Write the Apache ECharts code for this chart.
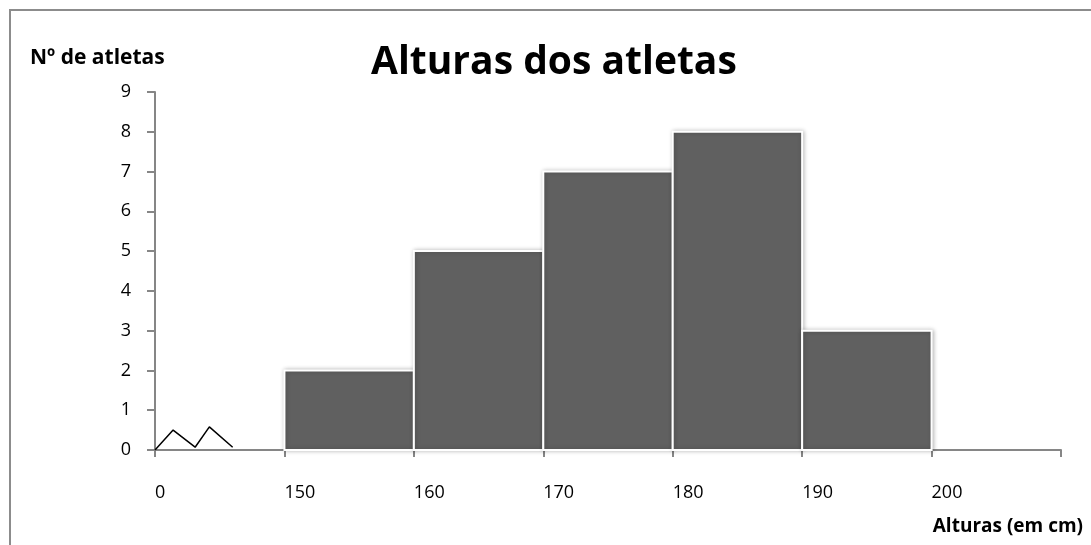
<!DOCTYPE html>
<html>
<head>
<meta charset="utf-8">
<script src="https://cdn.jsdelivr.net/npm/echarts@6/dist/echarts.min.js"></script>
<style>
  html, body { margin: 0; padding: 0; background: #fff; }
  #chart { width: 1091px; height: 545px; }
</style>
</head>
<body>
<div id="chart"></div>
<script>
// Height classes (lower bound, cm) and the number of athletes in each
const binStarts = [150, 160, 170, 180, 190];
const binWidth = 10;
const counts = [2, 5, 7, 8, 3];

// Labels under each x tick; the first slot is the broken-axis gap from 0 to 150
const xTickLabels = ['0', '150', '160', '170', '180', '190', '200', ''];
const yTicks = [0, 1, 2, 3, 4, 5, 6, 7, 8, 9];

// Zig-zag axis-break symbol inside the first slot, in axis units
const breakX = [0, 0.14, 0.31, 0.42, 0.6];
const breakY = [0, 0.5, 0.07, 0.58, 0.07];

const FONT = '"Open Sans", Lato, sans-serif';

// Slot position of a height value on the broken x axis
function slotOf(h) {
  return xTickLabels.indexOf('150') + (h - 150) / binWidth;
}

const barData = binStarts.map((s, i) => [slotOf(s), slotOf(s + binWidth), counts[i]]);
const breakData = breakX.map((x, i) => [x, breakY[i]]);

const chart = echarts.init(document.getElementById('chart'), null, { renderer: 'canvas' });
chart.setOption({
  backgroundColor: '#fff',
  animation: false,
  graphic: [{
    type: 'rect',
    shape: { x: 10, y: 10, width: 1200, height: 700 },
    style: { fill: 'none', stroke: '#8c8c8c', lineWidth: 2 },
    silent: true
  }],
  title: [
    {
      text: 'Alturas dos atletas',
      left: 371, top: 43, padding: 0,
      textStyle: { fontFamily: FONT, fontWeight: 'bold', fontSize: 39, color: '#000' }
    },
    {
      text: 'Nº de atletas',
      left: 30, top: 48, padding: 0,
      textStyle: { fontFamily: FONT, fontWeight: 'bold', fontSize: 21, color: '#000' }
    },
    {
      text: 'Alturas (em cm)',
      right: 8, top: 517, padding: 0,
      textStyle: { fontFamily: FONT, fontWeight: 'bold', fontSize: 19, color: '#000' }
    }
  ],
  grid: { left: 155, right: 30, top: 92, bottom: 95 },
  xAxis: {
    type: 'value',
    min: 0, max: xTickLabels.length - 1, interval: 1,
    splitLine: { show: false },
    axisLine: { show: true, lineStyle: { color: '#868686', width: 2 } },
    axisTick: { show: true, length: 7, lineStyle: { color: '#868686', width: 2 } },
    axisLabel: {
      formatter: v => xTickLabels[Math.round(v)] || '',
      align: 'left',
      margin: 34,
      fontFamily: FONT, fontSize: 18, color: '#000'
    }
  },
  yAxis: {
    type: 'value',
    min: yTicks[0], max: yTicks[yTicks.length - 1], interval: 1,
    splitLine: { show: false },
    axisLine: { show: true, lineStyle: { color: '#868686', width: 2 } },
    axisTick: { show: true, length: 8, lineStyle: { color: '#868686', width: 2 } },
    axisLabel: { margin: 24, fontFamily: FONT, fontSize: 18, color: '#000' }
  },
  series: [
    {
      type: 'custom',
      data: barData,
      encode: { x: [0, 1], y: 2 },
      renderItem: function (params, api) {
        const p0 = api.coord([api.value(0), api.value(2)]);
        const p1 = api.coord([api.value(1), 0]);
        return {
          type: 'rect',
          shape: { x: p0[0], y: p0[1], width: p1[0] - p0[0], height: p1[1] - p0[1] },
          style: {
            fill: '#606060', stroke: '#ffffff', lineWidth: 2,
            shadowBlur: 4, shadowColor: 'rgba(0,0,0,0.25)', shadowOffsetX: 1, shadowOffsetY: 0
          }
        };
      },
      z: 1
    },
    {
      type: 'line',
      data: breakData,
      symbol: 'none',
      lineStyle: { color: '#000', width: 1.5 },
      z: 3
    }
  ]
});
</script>
</body>
</html>
